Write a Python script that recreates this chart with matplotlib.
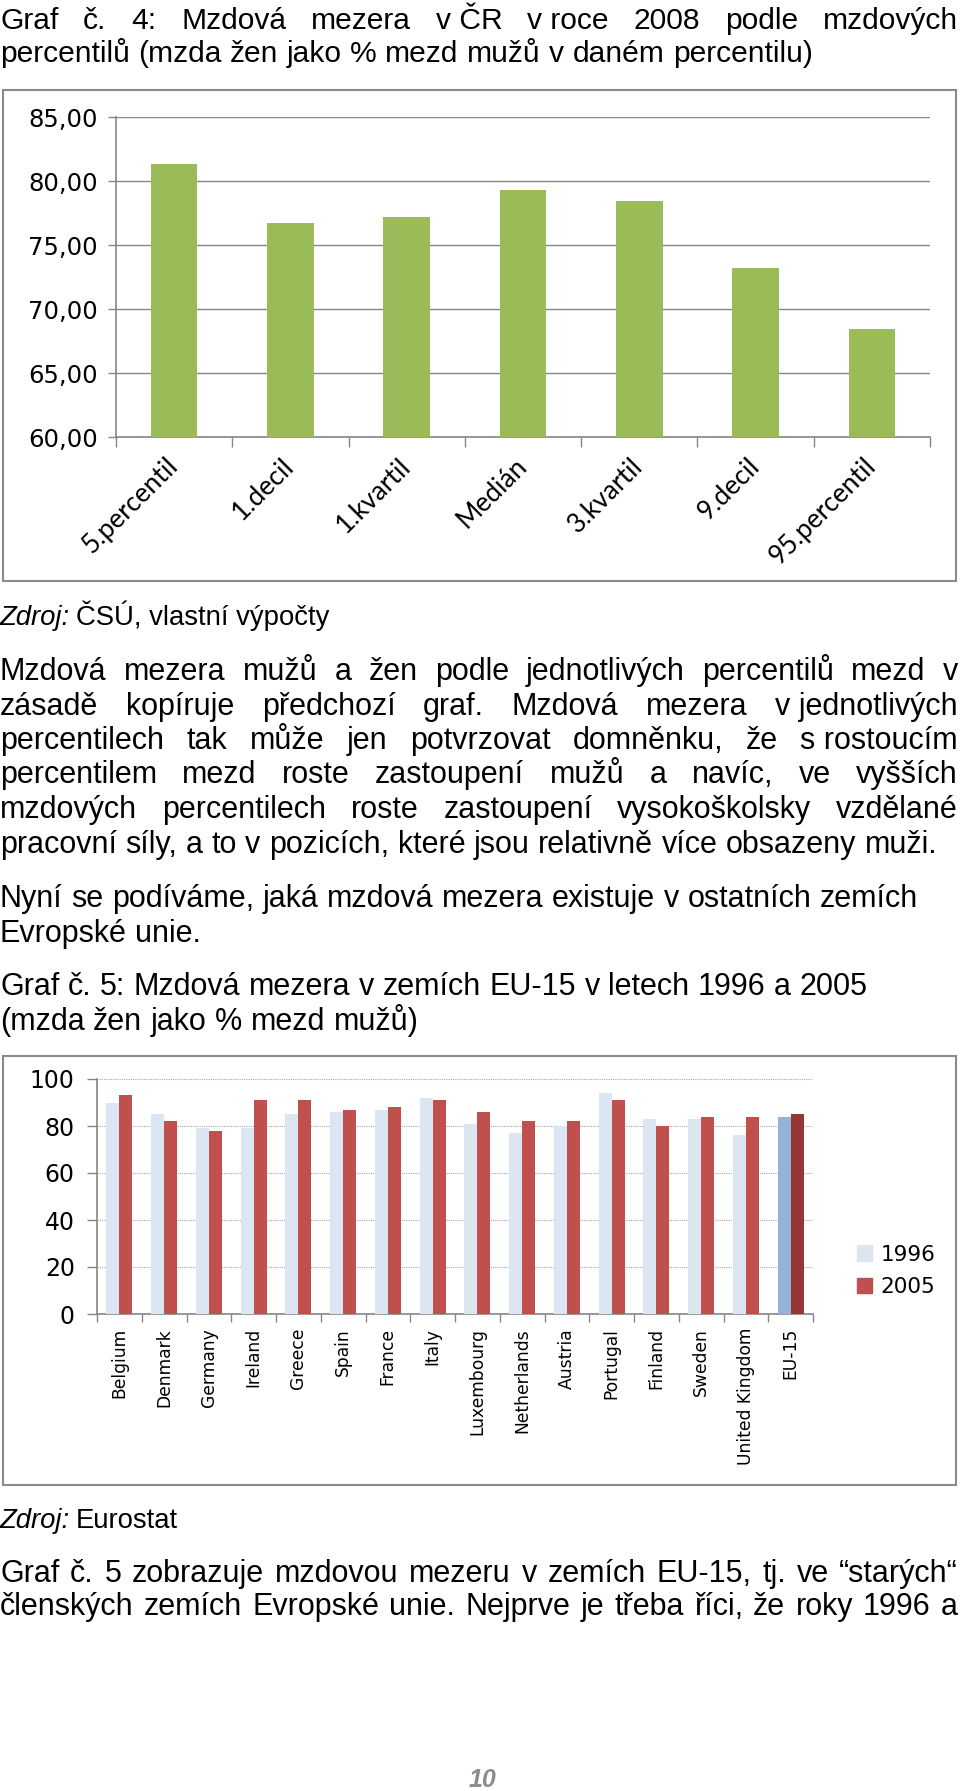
import matplotlib
matplotlib.use("Agg")
import matplotlib.pyplot as plt
from matplotlib.patches import Rectangle
import numpy as np

# Graf 4 data
percentily = ["5.percentil", "1.decil", "1.kvartil", "Medián", "3.kvartil", "9.decil", "95.percentil"]
mzda_pomer = [81.3, 76.7, 77.2, 79.3, 78.4, 73.2, 68.4]
ticks_g4 = [60, 65, 70, 75, 80, 85]
tick_labels_g4 = ["60,00", "65,00", "70,00", "75,00", "80,00", "85,00"]

# Graf 5 data
zeme = ["Belgium", "Denmark", "Germany", "Ireland", "Greece", "Spain", "France", "Italy",
        "Luxembourg", "Netherlands", "Austria", "Portugal", "Finland", "Sweden",
        "United Kingdom", "EU-15"]
rok_1996 = [90, 85, 79, 79, 85, 86, 87, 92, 81, 77, 80, 94, 83, 83, 76, 84]
rok_2005 = [93, 82, 78, 91, 91, 87, 88, 91, 86, 82, 82, 91, 80, 84, 84, 85]
ticks_g5 = [0, 20, 40, 60, 80, 100]

W, H = 960, 1791
fig = plt.figure(figsize=(W / 100, H / 100), dpi=100)
renderer = fig.canvas.get_renderer()

BODY = "Liberation Sans"
SIZE = 22.0


def fx(x):
    return x / W


def fy(y):
    return 1 - y / H


def radek(words, y, x0=0, x1=958, justify=True, size=SIZE, styles=None):
    # vysazeni jednoho radku, pripadne do bloku
    texty = []
    for i, w in enumerate(words):
        st = styles[i] if styles else "normal"
        t = fig.text(fx(x0), fy(y), w, fontsize=size, family=BODY, style=st,
                     va="baseline", ha="left")
        texty.append(t)
    sirky = [t.get_window_extent(renderer).width for t in texty]
    a = fig.text(0, 0, "a a", fontsize=size, family=BODY)
    b = fig.text(0, 0, "aa", fontsize=size, family=BODY)
    mezera = a.get_window_extent(renderer).width - b.get_window_extent(renderer).width
    a.remove()
    b.remove()
    if justify and len(words) > 1:
        gap = (x1 - x0 - sum(sirky)) / (len(words) - 1)
    else:
        gap = mezera
    x = x0
    for t, s in zip(texty, sirky):
        t.set_x(fx(x))
        x += s + gap


def zdroj(rest, y, size=19.8):
    t = fig.text(fx(0), fy(y), "Zdroj:", fontsize=size, family=BODY, style="italic", va="baseline")
    w = t.get_window_extent(renderer).width
    fig.text(fx(w + 6), fy(y), rest, fontsize=size, family=BODY, va="baseline")


# --- texty ---
radek(["Graf", "č.", "4:", "Mzdová", "mezera", "v ČR", "v roce", "2008", "podle", "mzdových"], 29, size=21.6)
radek("percentilů (mzda žen jako % mezd mužů v daném percentilu)".split(), 62, justify=False, size=21.6)

zdroj("ČSÚ, vlastní výpočty", 625)
odst = [
    ["Mzdová", "mezera", "mužů", "a", "žen", "podle", "jednotlivých", "percentilů", "mezd", "v"],
    ["zásadě", "kopíruje", "předchozí", "graf.", "Mzdová", "mezera", "v jednotlivých"],
    ["percentilech", "tak", "může", "jen", "potvrzovat", "domněnku,", "že", "s rostoucím"],
    "percentilem mezd roste zastoupení mužů a navíc, ve vyšších".split(),
    "mzdových percentilech roste zastoupení vysokoškolsky vzdělané".split(),
]
ys = [680, 715, 749, 783, 818]
for words, y in zip(odst, ys):
    radek(words, y)
radek("pracovní síly, a to v pozicích, které jsou relativně více obsazeny muži.".split(), 853, justify=False)
radek("Nyní se podíváme, jaká mzdová mezera existuje v ostatních zemích".split(), 907, justify=False)
radek("Evropské unie.".split(), 942, justify=False)
radek("Graf č. 5: Mzdová mezera v zemích EU-15 v letech 1996 a 2005".split(), 995, justify=False)
radek("(mzda žen jako % mezd mužů)".split(), 1030, justify=False)

zdroj("Eurostat", 1528)
radek("Graf č. 5 zobrazuje mzdovou mezeru v zemích EU-15, tj. ve “starých“".split(), 1582)
radek("členských zemích Evropské unie. Nejprve je třeba říci, že roky 1996 a".split(), 1615)
fig.text(fx(482), fy(1787), "10", fontsize=18, family=BODY, weight="bold", style="italic",
         color="#8c8c8c", ha="center", va="baseline")

# --- ramecky grafu ---
for (x0, y0, x1, y1) in [(3, 90, 956, 581), (3, 1056, 956, 1485)]:
    fig.patches.append(Rectangle((fx(x0), fy(y1)), (x1 - x0) / W, (y1 - y0) / H,
                                 transform=fig.transFigure, fill=False,
                                 edgecolor="#8a8a8a", linewidth=1.5))

seda = "#868686"

# --- Graf 4 ---
ax1 = fig.add_axes([fx(116), fy(437), (930 - 116) / W, (437 - 117) / H])
x = np.arange(len(percentily))
ax1.bar(x, mzda_pomer, width=0.4, color="#9BBB59", zorder=3)
ax1.set_xlim(-0.5, len(percentily) - 0.5)
ax1.set_ylim(60, 85)
ax1.set_yticks(ticks_g4, tick_labels_g4, family="DejaVu Sans", fontsize=17.5)
ax1.yaxis.grid(True, color=seda, linewidth=1.0, zorder=0)
ax1.set_xticks(x, percentily, rotation=45, ha="right", va="center",
               rotation_mode="anchor", family="Lato", fontsize=19)
ax1.set_xticks(np.arange(len(percentily) + 1) - 0.5, minor=True)
ax1.tick_params(axis="x", which="major", length=0, pad=18)
ax1.tick_params(axis="x", which="minor", length=7, color=seda, width=1)
ax1.tick_params(axis="y", length=6, color=seda, width=1, pad=7)
for s in ["top", "right"]:
    ax1.spines[s].set_visible(False)
for s in ["left", "bottom"]:
    ax1.spines[s].set_color(seda)
    ax1.spines[s].set_linewidth(1.2)

# --- Graf 5 ---
ax2 = fig.add_axes([fx(97), fy(1314), (813 - 97) / W, (1314 - 1079) / H])
x2 = np.arange(len(zeme))
w = 0.29
barvy_96 = ["#95B3D7" if z == "EU-15" else "#DCE6F2" for z in zeme]
barvy_05 = ["#953735" if z == "EU-15" else "#C0504D" for z in zeme]
ax2.bar(x2 - w / 2, rok_1996, width=w, color=barvy_96, zorder=3)
ax2.bar(x2 + w / 2, rok_2005, width=w, color=barvy_05, zorder=3)
ax2.set_xlim(-0.5, len(zeme) - 0.5)
ax2.set_ylim(0, 100)
ax2.set_yticks(ticks_g5, [str(t) for t in ticks_g5], family="DejaVu Sans", fontsize=17)
ax2.yaxis.grid(True, color="#a6a6a6", linewidth=0.8, linestyle=(0, (1, 1)), zorder=0)
ax2.set_xticks(x2, zeme, rotation=90, ha="center", va="top", family="DejaVu Sans", fontsize=12.3)
ax2.set_xticks(np.arange(len(zeme) + 1) - 0.5, minor=True)
ax2.tick_params(axis="x", which="major", length=0, pad=10)
ax2.tick_params(axis="x", which="minor", length=6, color=seda, width=1)
ax2.tick_params(axis="y", length=7, color=seda, width=1, pad=9)
for s in ["top", "right"]:
    ax2.spines[s].set_visible(False)
for s in ["left", "bottom"]:
    ax2.spines[s].set_color(seda)
    ax2.spines[s].set_linewidth(1.2)

hand = [Rectangle((0, 0), 1, 1, color="#DCE6F2"), Rectangle((0, 0), 1, 1, color="#C0504D")]
fig.legend(hand, ["1996", "2005"], loc="center left", bbox_to_anchor=(fx(846), fy(1271)),
           frameon=False, prop={"family": "DejaVu Sans", "size": 15.5},
           handlelength=0.7, handleheight=0.7, handletextpad=0.4, labelspacing=0.6, borderpad=0)

fig.savefig("out.png", dpi=100)
